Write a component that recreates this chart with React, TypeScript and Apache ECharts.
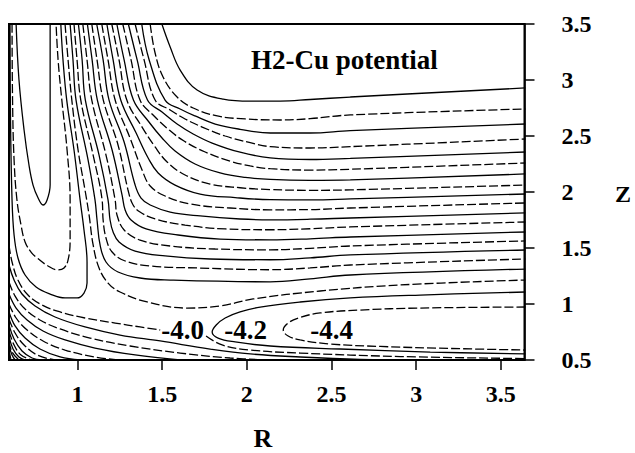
import React, { useEffect, useRef } from "react";
import * as echarts from "echarts";

// ---- axis ticks ----
const rTicks = [1, 1.5, 2, 2.5, 3, 3.5];
const zTicks = [0.5, 1, 1.5, 2, 2.5, 3, 3.5];

// ---- contour lines, points are [R, Z] ----
// upper branches (descend from the top, run out to large R)
const up06 = [[1.498,3.5],[1.547,3.295],[1.606,3.089],[1.706,2.911],[1.860,2.830],[2.020,2.812],[2.197,2.812],[2.374,2.826],[2.611,2.848],[3.645,2.929]];
const up08 = [[1.429,3.5],[1.458,3.241],[1.505,3.027],[1.588,2.848],[1.683,2.750],[1.825,2.679],[1.990,2.652],[2.197,2.643],[2.374,2.655],[2.611,2.688],[3.645,2.741]];
const up10 = [[1.379,3.5],[1.423,3.179],[1.517,2.821],[1.606,2.741],[1.694,2.679],[1.813,2.607],[1.960,2.560],[2.138,2.527],[2.374,2.527],[2.611,2.548],[3.645,2.607]];
const up12 = [[1.340,3.5],[1.393,3.179],[1.458,2.821],[1.547,2.732],[1.635,2.652],[1.736,2.580],[1.872,2.500],[2.020,2.440],[2.138,2.405],[2.374,2.393],[2.611,2.405],[3.645,2.473]];
const up14 = [[1.300,3.5],[1.352,3.179],[1.413,2.821],[1.499,2.714],[1.588,2.607],[1.683,2.518],[1.795,2.437],[1.960,2.355],[2.138,2.305],[2.374,2.290],[2.611,2.300],[3.645,2.357]];
const up16 = [[1.267,3.5],[1.316,3.179],[1.369,2.821],[1.452,2.679],[1.541,2.554],[1.629,2.455],[1.754,2.357],[1.901,2.275],[2.020,2.233],[2.138,2.208],[2.374,2.196],[2.611,2.203],[3.645,2.259]];
const up18 = [[1.232,3.5],[1.275,3.179],[1.330,2.821],[1.417,2.634],[1.499,2.482],[1.576,2.366],[1.694,2.250],[1.842,2.170],[1.990,2.130],[2.138,2.112],[2.374,2.104],[2.611,2.108],[3.645,2.161]];
const up20 = [[1.202,3.5],[1.245,3.179],[1.291,2.821],[1.381,2.580],[1.458,2.402],[1.529,2.268],[1.635,2.152],[1.783,2.071],[1.960,2.038],[2.138,2.022],[2.374,2.015],[2.611,2.019],[3.645,2.062]];
const up22 = [[1.173,3.5],[1.210,3.179],[1.255,2.821],[1.346,2.527],[1.417,2.304],[1.476,2.170],[1.576,2.062],[1.724,1.982],[1.931,1.950],[2.138,1.932],[2.374,1.930],[2.611,1.938],[3.645,1.982]];
const up24 = [[1.143,3.5],[1.180,3.179],[1.222,2.821],[1.310,2.482],[1.381,2.196],[1.429,2.054],[1.517,1.964],[1.665,1.893],[1.901,1.857],[2.138,1.841],[2.374,1.843],[2.611,1.857],[3.645,1.902]];
const up26 = [[1.113,3.5],[1.151,3.179],[1.186,2.821],[1.275,2.446],[1.340,2.062],[1.375,1.946],[1.429,1.884],[1.547,1.821],[1.724,1.786],[1.960,1.759],[2.138,1.752],[2.374,1.757],[2.611,1.768],[3.645,1.813]];
const up28 = [[1.084,3.5],[1.115,3.179],[1.152,2.821],[1.239,2.420],[1.298,2.018],[1.328,1.884],[1.369,1.821],[1.458,1.759],[1.635,1.705],[1.872,1.670],[2.138,1.663],[2.374,1.672],[2.611,1.688],[3.645,1.732]];
const up30 = [[1.058,3.5],[1.086,3.179],[1.117,2.821],[1.204,2.375],[1.263,1.973],[1.281,1.839],[1.316,1.750],[1.405,1.670],[1.594,1.616],[1.842,1.580],[2.138,1.573],[2.374,1.582],[2.611,1.598],[3.645,1.643]];
const up32 = [[1.031,3.5],[1.056,3.179],[1.084,2.821],[1.168,2.330],[1.222,1.929],[1.233,1.795],[1.275,1.661],[1.369,1.571],[1.547,1.518],[1.813,1.491],[2.138,1.484],[2.374,1.497],[2.611,1.518],[3.645,1.563]];
const up34 = [[1.005,3.5],[1.027,3.179],[1.046,2.821],[1.127,2.330],[1.180,1.929],[1.192,1.750],[1.210,1.643],[1.245,1.554],[1.340,1.473],[1.517,1.429],[1.783,1.402],[2.138,1.395],[2.374,1.412],[2.611,1.438],[3.645,1.482]];
const up36 = [[0.979,3.5],[0.997,3.179],[1.019,2.821],[1.092,2.330],[1.145,1.929],[1.151,1.750],[1.168,1.589],[1.204,1.464],[1.281,1.384],[1.429,1.339],[1.724,1.321],[2.138,1.306],[2.374,1.322],[2.611,1.348],[3.645,1.402]];
const up38 = [[0.956,3.5],[0.973,3.179],[0.991,2.821],[1.062,2.286],[1.103,1.929],[1.115,1.750],[1.133,1.527],[1.168,1.375],[1.239,1.286],[1.369,1.232],[1.547,1.214],[2.138,1.198],[2.374,1.225],[2.611,1.259],[3.645,1.312]];
const up40 = [[0.926,3.5],[0.944,3.179],[0.966,2.821],[1.003,2.375],[1.044,2.018],[1.068,1.795],[1.092,1.527],[1.127,1.321],[1.180,1.187],[1.251,1.107],[1.411,1.018],[1.647,0.964],[1.842,0.982],[2.037,1.045],[2.433,1.116],[2.906,1.170],[3.645,1.214]];

// entrance-channel U shaped contours
const u46 = [[0.637,3.5],[0.654,3.0],[0.684,2.554],[0.713,2.241],[0.737,2.062],[0.767,1.946],[0.796,1.884],[0.820,1.929],[0.838,2.062],[0.838,2.643],[0.838,3.5]];
const u44 = [[0.613,3.5],[0.616,2.821],[0.625,2.286],[0.642,1.929],[0.666,1.705],[0.690,1.554],[0.725,1.464],[0.761,1.411],[0.826,1.339],[0.885,1.304],[0.920,1.321],[0.944,1.393],[0.956,1.571],[0.956,1.929],[0.938,2.375],[0.907,2.821],[0.885,3.179],[0.873,3.5]];
const u42 = [[0.601,3.5],[0.604,2.643],[0.613,1.929],[0.625,1.616],[0.648,1.411],[0.690,1.259],[0.755,1.152],[0.838,1.089],[0.926,1.054],[0.997,1.054],[1.038,1.098],[1.056,1.187],[1.056,1.375],[1.038,1.661],[1.015,1.929],[0.979,2.375],[0.936,2.821],[0.914,3.179],[0.901,3.5]];

// exit-channel loops (open to large R)
const loop42 = [[3.645,1.107],[3.024,1.080],[2.611,1.054],[2.315,1.018],[2.079,0.973],[1.960,0.929],[1.872,0.875],[1.819,0.813],[1.795,0.750],[1.830,0.696],[1.931,0.661],[2.138,0.625],[2.551,0.598],[3.083,0.571],[3.645,0.554]];
const loop44 = [[3.645,0.973],[3.024,0.964],[2.670,0.946],[2.433,0.920],[2.303,0.875],[2.244,0.830],[2.215,0.768],[2.244,0.714],[2.315,0.679],[2.492,0.643],[2.788,0.621],[3.201,0.603],[3.645,0.589]];

// lower branches along the repulsive wall and the surface
const lo40a = [[0.595,1.527],[0.613,1.375],[0.648,1.214],[0.707,1.080],[0.790,0.991],[0.897,0.929],[1.044,0.875],[1.222,0.830],[1.369,0.795],[1.488,0.768]];
const lo40b = [[1.759,0.714],[1.854,0.634],[2.020,0.589],[2.315,0.562],[2.906,0.531],[3.645,0.513]];
const lo38 = [[0.595,1.348],[0.625,1.214],[0.672,1.089],[0.749,0.982],[0.867,0.884],[1.044,0.795],[1.251,0.723],[1.488,0.670],[1.783,0.598],[2.020,0.554],[2.315,0.527],[2.670,0.506],[3.024,0.5]];
const lo36 = [[0.595,1.196],[0.631,1.071],[0.690,0.955],[0.778,0.857],[0.897,0.777],[1.074,0.696],[1.310,0.625],[1.606,0.562],[1.901,0.518],[2.138,0.5]];
const lo34 = [[0.595,1.089],[0.637,0.964],[0.702,0.857],[0.796,0.759],[0.926,0.679],[1.103,0.607],[1.340,0.545],[1.606,0.5]];
const lo32 = [[0.595,1.0],[0.637,0.875],[0.702,0.768],[0.796,0.670],[0.926,0.589],[1.103,0.527],[1.251,0.5]];
const lo30 = [[0.595,0.929],[0.631,0.804],[0.690,0.696],[0.778,0.598],[0.897,0.527],[1.015,0.5]];
const lo28 = [[0.595,0.866],[0.631,0.741],[0.684,0.634],[0.761,0.545],[0.867,0.5]];
const lo26 = [[0.595,0.813],[0.625,0.687],[0.672,0.580],[0.731,0.518],[0.790,0.5]];
const lo24 = [[0.595,0.759],[0.625,0.634],[0.666,0.545],[0.731,0.5]];
const lo22 = [[0.595,0.714],[0.619,0.598],[0.654,0.527],[0.690,0.5]];
const lo20 = [[0.595,0.670],[0.613,0.571],[0.654,0.5]];
const lo18 = [[0.595,0.625],[0.613,0.545],[0.631,0.5]];
const lo16 = [[0.595,0.589],[0.607,0.5]];

// contour labels
const labelTexts = ["-4.0", "-4.2", "-4.4"];
const labelR = [1.624, 1.996, 2.504];
const labelZ = [0.76, 0.76, 0.76];

const contours: { level: number; pts: number[][] }[] = [
  { level: -0.6, pts: up06 }, { level: -0.8, pts: up08 }, { level: -1.0, pts: up10 },
  { level: -1.2, pts: up12 }, { level: -1.4, pts: up14 }, { level: -1.6, pts: up16 },
  { level: -1.8, pts: up18 }, { level: -2.0, pts: up20 }, { level: -2.2, pts: up22 },
  { level: -2.4, pts: up24 }, { level: -2.6, pts: up26 }, { level: -2.8, pts: up28 },
  { level: -3.0, pts: up30 }, { level: -3.2, pts: up32 }, { level: -3.4, pts: up34 },
  { level: -3.6, pts: up36 }, { level: -3.8, pts: up38 }, { level: -4.0, pts: up40 },
  { level: -4.6, pts: u46 }, { level: -4.4, pts: u44 }, { level: -4.2, pts: u42 },
  { level: -4.2, pts: loop42 }, { level: -4.4, pts: loop44 },
  { level: -4.0, pts: lo40a }, { level: -4.0, pts: lo40b }, { level: -3.8, pts: lo38 },
  { level: -3.6, pts: lo36 }, { level: -3.4, pts: lo34 }, { level: -3.2, pts: lo32 },
  { level: -3.0, pts: lo30 }, { level: -2.8, pts: lo28 }, { level: -2.6, pts: lo26 },
  { level: -2.4, pts: lo24 }, { level: -2.2, pts: lo22 }, { level: -2.0, pts: lo20 },
  { level: -1.8, pts: lo18 }, { level: -1.6, pts: lo16 },
];

const SERIF = "'Liberation Serif', 'Times New Roman', 'DejaVu Serif', serif";

function buildOption() {
  const lineSeries = contours.map((c) => {
    const dashed = Math.round(Math.abs(c.level) * 5) % 2 === 0;
    return {
      type: "line",
      data: c.pts,
      symbol: "none",
      smooth: 0.4,
      silent: true,
      clip: true,
      lineStyle: { color: "#000", width: 1.3, type: dashed ? [9, 3] : "solid" },
      z: 2,
    };
  });
  const labelSeries = {
    type: "scatter",
    symbol: "circle",
    symbolSize: 1,
    itemStyle: { color: "rgba(0,0,0,0)" },
    silent: true,
    z: 5,
    data: labelTexts.map((t, i) => ({ name: t, value: [labelR[i], labelZ[i]] })),
    label: {
      show: true,
      position: [0, 0],
      align: "center",
      verticalAlign: "middle",
      formatter: (p: any) => p.name,
      fontFamily: SERIF,
      fontWeight: "bold",
      fontSize: 27,
      color: "#000",
      opacity: 1,
      textBorderWidth: 0,
      textBorderColor: "transparent",
    },
  };
  return {
    animation: false,
    backgroundColor: "#fff",
    title: {
      text: "H2-Cu potential",
      left: 251,
      top: 46,
      padding: 0,
      textStyle: { fontFamily: SERIF, fontWeight: "bold", fontSize: 27, lineHeight: 27, color: "#000" },
    },
    grid: { left: 9, top: 24, width: 515.5, height: 336, show: true, borderColor: "#000", borderWidth: 2, backgroundColor: "transparent" },
    xAxis: {
      type: "value",
      min: 0.595,
      max: 3.64,
      splitLine: { show: false },
      axisLine: { show: true, onZero: false, lineStyle: { color: "#000", width: 1.5 } },
      axisTick: { show: true, length: 10, lineStyle: { color: "#000", width: 1.5 }, customValues: rTicks },
      axisLabel: {
        customValues: rTicks,
        margin: 22,
        fontFamily: SERIF,
        fontWeight: "bold",
        fontSize: 24,
        color: "#000",
      },
    },
    yAxis: {
      type: "value",
      position: "right",
      min: 0.5,
      max: 3.5,
      interval: 0.5,
      splitLine: { show: false },
      axisLine: { show: true, onZero: false, lineStyle: { color: "#000", width: 1.5 } },
      axisTick: { show: true, length: 10, lineStyle: { color: "#000", width: 1.5 }, customValues: zTicks },
      axisLabel: {
        customValues: zTicks,
        margin: 37,
        fontFamily: SERIF,
        fontWeight: "bold",
        fontSize: 24,
        color: "#000",
      },
    },
    graphic: [
      {
        type: "text",
        x: 263,
        y: 438,
        style: {
          text: "R",
          font: `bold 26px ${SERIF}`,
          fill: "#000",
          align: "center",
          verticalAlign: "middle",
          textAlign: "center",
          textVerticalAlign: "middle",
        },
      },
      {
        type: "text",
        x: 623,
        y: 194,
        style: {
          text: "Z",
          font: `bold 24px ${SERIF}`,
          fill: "#000",
          align: "center",
          verticalAlign: "middle",
          textAlign: "center",
          textVerticalAlign: "middle",
        },
      },
    ],
    series: [...lineSeries, labelSeries],
  };
}

export default function App() {
  const ref = useRef<HTMLDivElement>(null);
  useEffect(() => {
    if (!ref.current) return;
    const chart = echarts.init(ref.current, null, { renderer: "svg" });
    chart.setOption(buildOption() as any);
    return () => chart.dispose();
  }, []);
  return (
    <div
      ref={ref}
      style={{ position: "absolute", left: 0, top: 0, width: 635, height: 453, background: "#fff" }}
    />
  );
}
